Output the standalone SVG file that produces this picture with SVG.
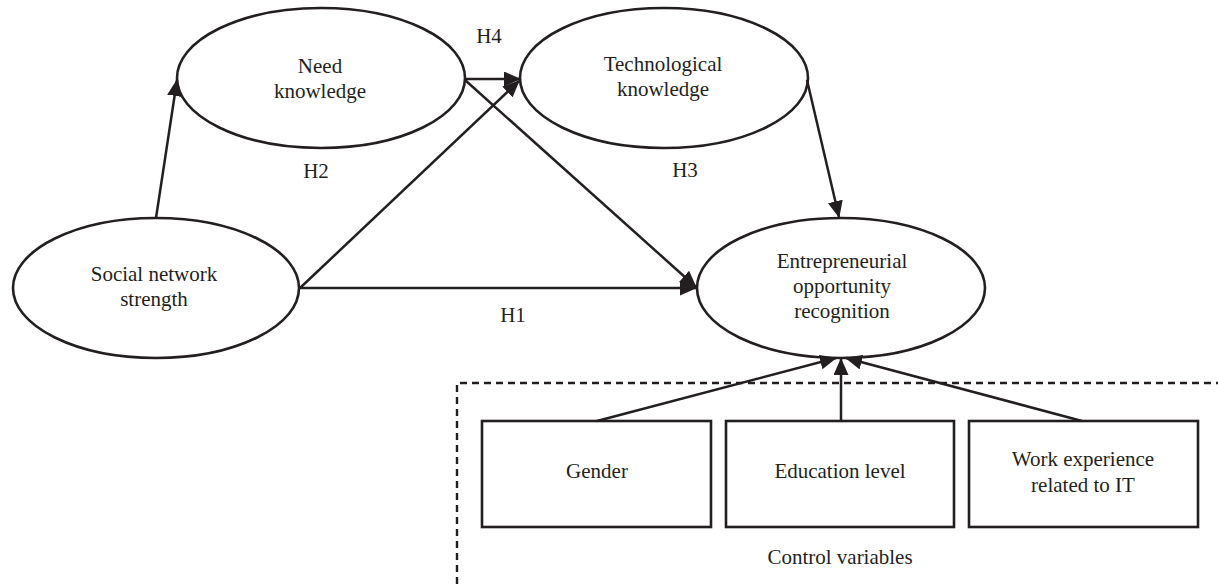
<svg xmlns="http://www.w3.org/2000/svg" width="1218" height="584" viewBox="0 0 1218 584">
<style>
.node{fill:#ffffff;stroke:#231f20;stroke-width:2.6}
.lbl{font-family:"Liberation Serif",serif;font-size:21px;fill:#231f20;text-anchor:middle}
.conn{stroke:#231f20;stroke-width:2.5;fill:none}
.dash{stroke:#231f20;stroke-width:2.4;fill:none;stroke-dasharray:7 5}
</style>
<defs>
<marker id="arr" markerUnits="userSpaceOnUse" markerWidth="18" markerHeight="16" refX="16" refY="7.5" orient="auto">
<path d="M0,0 L17,7.5 L0,15 z" fill="#231f20"/>
</marker>
</defs>
<rect width="1218" height="584" fill="#ffffff"/>
<g id="control-group">
<path class="dash" d="M457,584 L457,383 L1218,383"/>
<text class="lbl" x="840" y="564">Control variables</text>
</g>
<g id="need">
<ellipse class="node" cx="321" cy="78" rx="144" ry="70"/>
<text class="lbl" x="320" y="73">Need</text>
<text class="lbl" x="320" y="98">knowledge</text>
</g>
<g id="tech">
<ellipse class="node" cx="664" cy="78" rx="144" ry="70"/>
<text class="lbl" x="663" y="71">Technological</text>
<text class="lbl" x="663" y="96">knowledge</text>
</g>
<g id="social">
<ellipse class="node" cx="156" cy="288" rx="143" ry="70"/>
<text class="lbl" x="154" y="281">Social network</text>
<text class="lbl" x="154" y="306">strength</text>
</g>
<g id="ent">
<ellipse class="node" cx="841" cy="288" rx="144" ry="70"/>
<text class="lbl" x="842" y="268">Entrepreneurial</text>
<text class="lbl" x="842" y="293">opportunity</text>
<text class="lbl" x="842" y="318">recognition</text>
</g>
<g id="gender">
<rect class="node" x="482" y="421" width="229" height="106"/>
<text class="lbl" x="597" y="478">Gender</text>
</g>
<g id="education">
<rect class="node" x="726" y="421" width="228" height="106"/>
<text class="lbl" x="840" y="478">Education level</text>
</g>
<g id="work">
<rect class="node" x="969" y="421" width="229" height="106"/>
<text class="lbl" x="1083" y="466">Work experience</text>
<text class="lbl" x="1083" y="492">related to IT</text>
</g>
<g id="connectors">
<line class="conn" x1="156" y1="218" x2="177" y2="80" marker-end="url(#arr)"/>
<line class="conn" x1="465" y1="79" x2="520" y2="79" marker-end="url(#arr)"/>
<line class="conn" x1="300" y1="288" x2="519" y2="81" marker-end="url(#arr)"/>
<line class="conn" x1="465" y1="80" x2="696" y2="287" marker-end="url(#arr)"/>
<line class="conn" x1="300" y1="288" x2="696" y2="288" marker-end="url(#arr)"/>
<line class="conn" x1="807" y1="80" x2="839" y2="217" marker-end="url(#arr)"/>
<line class="conn" x1="597" y1="421" x2="836" y2="358" marker-end="url(#arr)"/>
<line class="conn" x1="841" y1="421" x2="841" y2="359" marker-end="url(#arr)"/>
<line class="conn" x1="1082" y1="421" x2="846" y2="358" marker-end="url(#arr)"/>
</g>
<g id="labels">
<text class="lbl" x="489" y="43">H4</text>
<text class="lbl" x="316" y="178">H2</text>
<text class="lbl" x="685" y="177">H3</text>
<text class="lbl" x="513" y="322">H1</text>
</g>
</svg>
